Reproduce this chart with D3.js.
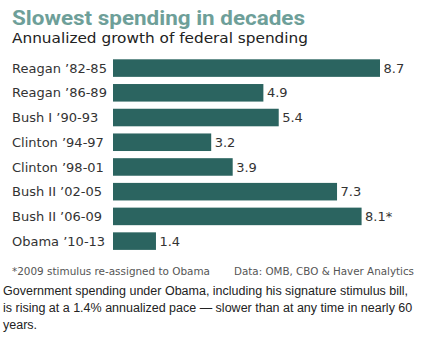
<!DOCTYPE html>
<html>
<head>
<meta charset="utf-8">
<script src="https://cdn.jsdelivr.net/npm/d3@7"></script>
<style>
  html, body { margin: 0; padding: 0; background: #fff; }
  svg { display: block; }
</style>
</head>
<body>
<div id="chart"></div>
<script>
// Federal spending growth by presidential term
const categories = ["Reagan \u201982-85", "Reagan \u201986-89", "Bush I \u201990-93", "Clinton \u201994-97",
                    "Clinton \u201998-01", "Bush II \u201902-05", "Bush II \u201906-09", "Obama \u201910-13"];
const values = [8.7, 4.9, 5.4, 3.2, 3.9, 7.3, 8.1, 1.4];
const valueLabels = ["8.7", "4.9", "5.4", "3.2", "3.9", "7.3", "8.1*", "1.4"];

const title = "Slowest spending in decades";
const subtitle = "Annualized growth of federal spending";
const footnote = "*2009 stimulus re-assigned to Obama";
const source = "Data: OMB, CBO & Haver Analytics";
const caption = [
  "Government spending under Obama, including his signature stimulus bill,",
  "is rising at a 1.4% annualized pace \u2014 slower than at any time in nearly 60",
  "years."
];

const W = 429, H = 338;
const svg = d3.select("#chart").append("svg").attr("width", W).attr("height", H);

const x = d3.scaleLinear().domain([0, 8.7]).range([113, 380]);
const y = d3.scaleBand().domain(categories).range([55.6, 253.6]).paddingInner(0.29).paddingOuter(0.15);

// headings
svg.append("text")
  .attr("x", 12).attr("y", 25)
  .attr("font-family", "Roboto, 'Liberation Sans', sans-serif")
  .attr("font-weight", 700)
  .attr("font-size", 20.5)
  .attr("fill", "#6e9f99")
  .attr("textLength", 293).attr("lengthAdjust", "spacingAndGlyphs")
  .text(title);

svg.append("text")
  .attr("x", 12).attr("y", 42.5)
  .attr("font-family", "'DejaVu Sans', Verdana, sans-serif")
  .attr("font-size", 14)
  .attr("fill", "#222")
  .attr("textLength", 296).attr("lengthAdjust", "spacingAndGlyphs")
  .text(subtitle);

// bars
const g = svg.append("g");
g.selectAll("rect").data(values).join("rect")
  .attr("x", x(0))
  .attr("y", (d, i) => y(categories[i]))
  .attr("width", d => x(d) - x(0))
  .attr("height", y.bandwidth())
  .attr("fill", "#2b6460");

// category labels
g.selectAll("text.cat").data(categories).join("text")
  .attr("class", "cat")
  .attr("x", 12)
  .attr("y", d => y(d) + y.bandwidth() / 2 + 4.6)
  .attr("font-family", "'DejaVu Sans', Verdana, sans-serif")
  .attr("font-size", 13)
  .attr("fill", "#333")
  .text(d => d);

// value labels
g.selectAll("text.val").data(values).join("text")
  .attr("class", "val")
  .attr("x", d => x(d) + 3.5)
  .attr("y", (d, i) => y(categories[i]) + y.bandwidth() / 2 + 4.6)
  .attr("font-family", "'DejaVu Sans', Verdana, sans-serif")
  .attr("font-size", 13)
  .attr("fill", "#333")
  .text((d, i) => valueLabels[i]);

// footnotes
svg.append("text")
  .attr("x", 12).attr("y", 275)
  .attr("font-family", "'DejaVu Sans', Verdana, sans-serif")
  .attr("font-size", 10)
  .attr("fill", "#555")
  .attr("textLength", 198).attr("lengthAdjust", "spacingAndGlyphs")
  .text(footnote);

svg.append("text")
  .attr("x", 234).attr("y", 275)
  .attr("font-family", "'DejaVu Sans', Verdana, sans-serif")
  .attr("font-size", 10)
  .attr("fill", "#555")
  .attr("textLength", 180).attr("lengthAdjust", "spacingAndGlyphs")
  .text(source);

// caption
svg.selectAll("text.cap").data(caption).join("text")
  .attr("class", "cap")
  .attr("x", 3)
  .attr("y", (d, i) => 294.5 + i * 17)
  .attr("font-family", "'Liberation Sans', Arial, sans-serif")
  .attr("font-size", 12.5)
  .attr("fill", "#222")
  .text(d => d);
</script>
</body>
</html>
